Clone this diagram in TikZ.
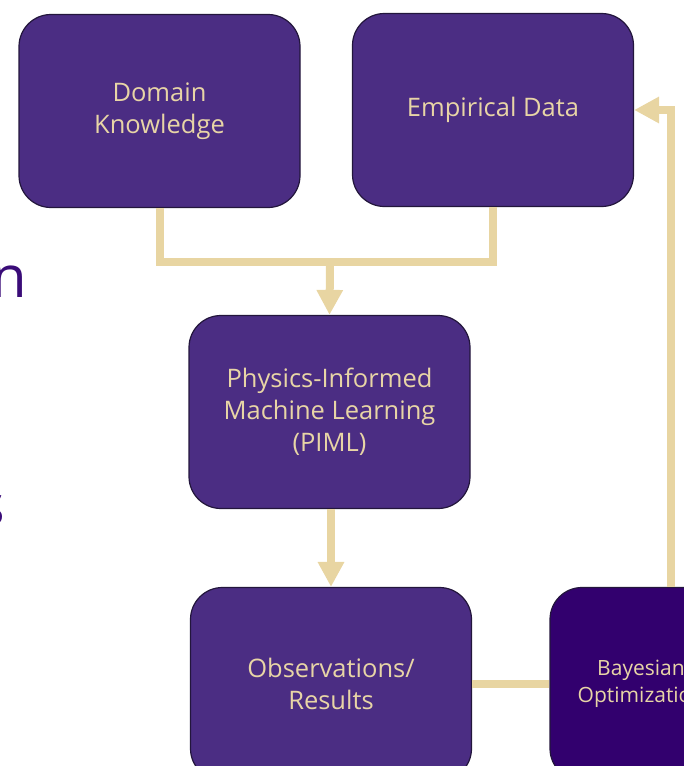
\documentclass[tikz,border=0pt]{standalone}
\usepackage{fontspec}
\setmainfont{Open Sans}
\usetikzlibrary{arrows.meta}
\definecolor{boxpurple}{RGB}{75,45,131}
\definecolor{darkpurple}{RGB}{50,0,110}
\definecolor{edge}{RGB}{35,22,60}
\definecolor{gold}{RGB}{232,213,166}
\definecolor{conncol}{RGB}{232,213,162}
\definecolor{slidetext}{RGB}{58,12,120}
\begin{document}
\begin{tikzpicture}[x=1pt,y=-1pt,
  box/.style={draw=edge, line width=1.2pt, fill=boxpurple, rounded corners=32pt,
    minimum width=281pt, minimum height=193pt, align=center, text=gold,
    font=\fontsize{25.5}{32}\selectfont, inner sep=0pt},
  bbox/.style={box, fill=darkpurple, minimum width=182pt,
    font=\fontsize{21}{27}\selectfont},
  conn/.style={draw=conncol, line width=8pt},
  arr/.style={-{Triangle[width=25pt,length=25pt]}},
  slide/.style={text=slidetext, inner sep=0pt, font=\fontsize{58}{60}\selectfont}]
\useasboundingbox (0,0) rectangle (684,766);
\clip (0,0) rectangle (684,766);
\node[box] (dk) at (159.5,111) {Domain\\Knowledge};
\node[box] (ed) at (493,110) {Empirical Data};
\node[box] (piml) at (329.5,412) {Physics-Informed\\Machine Learning\\(PIML)};
\node[box] (obs) at (331,684) {Observations/\\Results};
\node[bbox] (bo) at (641,684) {Bayesian\\Optimization};
\node[slide, anchor=base east] (t1) at (27,297) {n};
\node[slide, anchor=base east] (t2) at (5.5,525) {s};
\coordinate (j) at (330,262);
\coordinate (c) at (671,110);
\draw[conn] (dk.south) -- (dk.south |- j) -- (ed.south |- j) -- (ed.south);
\draw[conn,arr] (j) -- (piml.north);
\draw[conn,arr] (piml.south -| 331,0) -- (obs.north);
\draw[conn] (obs.east) -- (bo.west);
\draw[conn,arr] (bo.north -| c) -- (c) -- (ed.east);
\end{tikzpicture}
\end{document}
